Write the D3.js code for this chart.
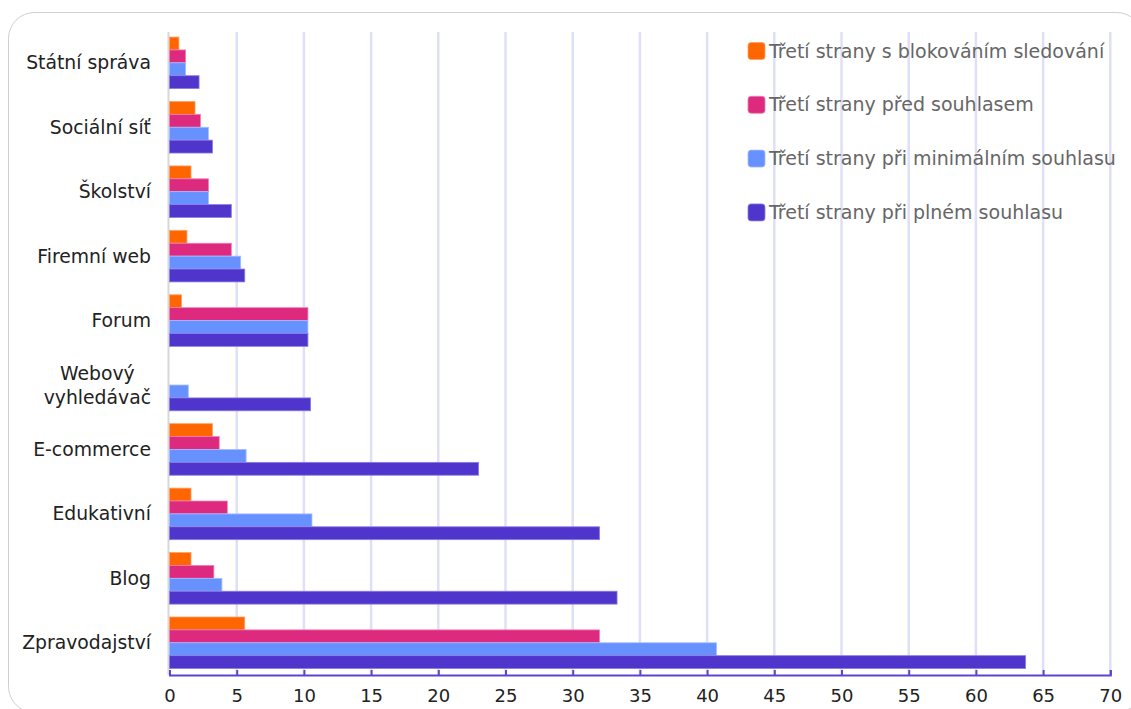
<!DOCTYPE html>
<html>
<head>
<meta charset="utf-8">
<script src="https://cdn.jsdelivr.net/npm/d3@7"></script>
<style>
  html, body { margin: 0; padding: 0; background: #fff; }
  svg { display: block; font-family: "DejaVu Sans", Verdana, sans-serif; }
</style>
</head>
<body>
<svg id="chart" width="1131" height="709"></svg>
<script>
// Website categories (top to bottom)
const categories = [
  "Státní správa", "Sociální síť", "Školství", "Firemní web", "Forum",
  "Webový vyhledávač", "E-commerce", "Edukativní", "Blog", "Zpravodajství"
];

// Series names
const seriesNames = [
  "Třetí strany s blokováním sledování",
  "Třetí strany před souhlasem",
  "Třetí strany při minimálním souhlasu",
  "Třetí strany při plném souhlasu"
];

// Average number of third parties per category, one array per series
const blockedTracking = [0.7, 1.9, 1.6, 1.3, 0.9, 0, 3.2, 1.6, 1.6, 5.6];
const beforeConsent   = [1.2, 2.3, 2.9, 4.6, 10.3, 0, 3.7, 4.3, 3.3, 32.0];
const minimalConsent  = [1.2, 2.9, 2.9, 5.3, 10.3, 1.4, 5.7, 10.6, 3.9, 40.7];
const fullConsent     = [2.2, 3.2, 4.6, 5.6, 10.3, 10.5, 23.0, 32.0, 33.3, 63.7];

const xTicks = [0, 5, 10, 15, 20, 25, 30, 35, 40, 45, 50, 55, 60, 65, 70];

const seriesValues = [blockedTracking, beforeConsent, minimalConsent, fullConsent];
const colors = ["#ff6600", "#dd2a7f", "#6691ff", "#5035cc"];
const strokes = ["#ffa066", "#ee7fb0", "#a6beff", "#8d7de0"];

const svg = d3.select("#chart");

// Rounded container frame
svg.append("rect")
  .attr("x", 8.5).attr("y", 12.5)
  .attr("width", 1134).attr("height", 700)
  .attr("rx", 26).attr("ry", 26)
  .attr("fill", "none")
  .attr("stroke", "#cfcfcf")
  .attr("stroke-width", 1);

const plotLeft = 169.5, plotRight = 1110.3, plotTop = 30.6, plotBottom = 675;

const x = d3.scaleLinear().domain([0, 70]).range([plotLeft, plotRight]);
const y = d3.scaleBand().domain(categories).range([plotTop, plotBottom])
  .paddingInner(0.2).paddingOuter(0.1);
const ySub = d3.scaleBand().domain(d3.range(seriesNames.length)).range([0, y.bandwidth()]);

// Vertical grid lines
svg.append("g").selectAll("line")
  .data(xTicks.filter(d => d > 0))
  .join("line")
  .attr("x1", d => x(d)).attr("x2", d => x(d))
  .attr("y1", 32).attr("y2", plotBottom)
  .attr("stroke", "#dfe0f8")
  .attr("stroke-width", 2.5);

// Zero line
svg.append("line")
  .attr("x1", x(0) - 1).attr("x2", x(0) - 1)
  .attr("y1", 32).attr("y2", plotBottom)
  .attr("stroke", "#d8d8d8")
  .attr("stroke-width", 2);

// Bars
const groups = svg.append("g").selectAll("g")
  .data(categories)
  .join("g")
  .attr("transform", d => `translate(0,${y(d)})`);

groups.selectAll("rect")
  .data((d, i) => seriesValues.map((vals, s) => ({ s, v: vals[i] })).filter(e => e.v > 0))
  .join("rect")
  .attr("x", x(0))
  .attr("y", d => ySub(d.s))
  .attr("width", d => x(d.v) - x(0))
  .attr("height", ySub.bandwidth())
  .attr("fill", d => colors[d.s])
  .attr("stroke", d => strokes[d.s])
  .attr("stroke-width", 0.8);

// Bottom axis with inward ticks
const axis = d3.axisBottom(x).tickValues(xTicks).tickSizeInner(-5).tickSizeOuter(-5).tickPadding(14);
const ax = svg.append("g").attr("transform", `translate(0,${plotBottom})`).call(axis);
ax.select(".domain").attr("stroke", "#5a46d0").attr("stroke-width", 2);
ax.selectAll(".tick line").attr("stroke", "#5a46d0").attr("stroke-width", 2);
ax.selectAll(".tick text")
  .attr("font-family", "DejaVu Sans, Verdana, sans-serif")
  .attr("font-size", 18)
  .attr("fill", "#222");

// Category labels, wrapping the long one onto two lines
const labelRight = 151;
const labelWraps = { "Webový vyhledávač": ["Webový", "vyhledávač"] };
categories.forEach(c => {
  const lines = labelWraps[c] || [c];
  const cy = y(c) + y.bandwidth() / 2;
  const t = svg.append("text")
    .attr("font-size", 18.8)
    .attr("fill", "#222");
  const lh = 24;
  lines.forEach((ln, i) => {
    t.append("tspan").text(ln)
      .attr("y", cy + (i - (lines.length - 1) / 2) * lh)
      .attr("dy", "0.35em");
  });
  if (lines.length === 1) {
    t.attr("text-anchor", "end");
    t.selectAll("tspan").attr("x", labelRight);
  } else {
    t.attr("text-anchor", "middle");
    const widths = [];
    t.selectAll("tspan").each(function () { widths.push(this.getComputedTextLength()); });
    const cx = labelRight - d3.max(widths) / 2;
    t.selectAll("tspan").attr("x", cx);
  }
});

// Legend
const legend = svg.append("g").selectAll("g")
  .data(seriesNames)
  .join("g")
  .attr("transform", (d, i) => `translate(748,${51 + i * 53.8})`);
legend.append("rect")
  .attr("x", 0).attr("y", -8.5)
  .attr("width", 17).attr("height", 17)
  .attr("rx", 3)
  .attr("fill", (d, i) => colors[i])
  .attr("stroke", (d, i) => strokes[i])
  .attr("stroke-width", 0.8);
legend.append("text")
  .attr("x", 21).attr("y", 0).attr("dy", "0.35em")
  .attr("font-size", 19)
  .attr("fill", "#666")
  .text(d => d);
</script>
</body>
</html>
